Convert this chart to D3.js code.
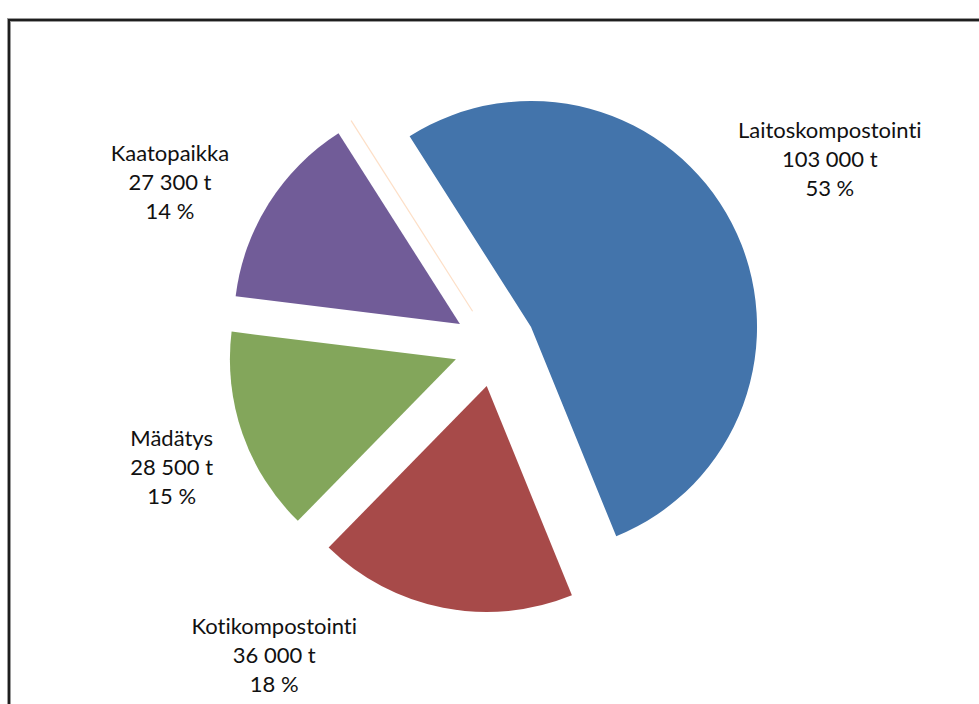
<!DOCTYPE html>
<html>
<head>
<meta charset="utf-8">
<script src="https://cdn.jsdelivr.net/npm/d3@7"></script>
<style>
  html, body { margin: 0; padding: 0; background: #fff; }
  svg { display: block; }
  text { font-variant-ligatures: none; font-feature-settings: "liga" 0, "clig" 0; }
</style>
</head>
<body>
<svg id="chart" width="979" height="704"></svg>
<script>
// ---- data ----
const categories = ["Laitoskompostointi", "Kotikompostointi", "Mädätys", "Kaatopaikka", ""];
const tonnes = [103000, 36000, 28500, 27300, 0];
const colors = ["#4374AB", "#A74A49", "#83A65B", "#715C98", "#F79646"];

// ---- layout ----
const W = 979, H = 704;
const cx = 494.6, cy = 345.8;
const R = 226;
const explode = 41;
const startDeg = -32.5;
const labelRadius = 339;
const labelNudge = [[34, -31], [-155, -23], [-3, 10], [-38, 18], [0, 0]];
const lineH = 29;

const svg = d3.select("#chart");

// frame
svg.append("rect")
  .attr("x", 9).attr("y", 20)
  .attr("width", W + 20).attr("height", H + 20)
  .attr("fill", "#fff")
  .attr("stroke", "#9a9a9a").attr("stroke-width", 4);
svg.append("rect")
  .attr("x", 9).attr("y", 20)
  .attr("width", W + 20).attr("height", H + 20)
  .attr("fill", "none")
  .attr("stroke", "#1e1e1e").attr("stroke-width", 2);

const total = d3.sum(tonnes);
const data = categories.map((c, i) => ({ name: c, value: tonnes[i], color: colors[i], i }));

const start = startDeg * Math.PI / 180;
const pie = d3.pie().value(d => d.value).sort(null)
  .startAngle(start).endAngle(start + 2 * Math.PI);
const arcs = pie(data);
const arc = d3.arc().innerRadius(0).outerRadius(R);

const g = svg.append("g").attr("transform", `translate(${cx},${cy})`);

g.selectAll("path.slice")
  .data(arcs)
  .join("path")
  .attr("class", "slice")
  .attr("transform", d => {
    const a = (d.startAngle + d.endAngle) / 2;
    return `translate(${Math.sin(a) * explode},${-Math.cos(a) * explode})`;
  })
  .attr("d", arc)
  .attr("fill", d => d.value > 0 ? d.data.color : "none")
  .attr("stroke", d => d.value > 0 ? "none" : d.data.color)
  .attr("stroke-opacity", d => d.value > 0 ? 0 : 0.3)
  .attr("stroke-width", 1.2);

// labels
const fmt = d3.formatLocale({ decimal: ",", thousands: " ", grouping: [3], currency: ["", ""] }).format(",d");

const lab = g.selectAll("g.lab")
  .data(arcs.filter(d => d.value > 0))
  .join("g")
  .attr("class", "lab")
  .attr("transform", d => {
    const a = (d.startAngle + d.endAngle) / 2;
    const n = labelNudge[d.data.i];
    return `translate(${Math.sin(a) * labelRadius + n[0]},${-Math.cos(a) * labelRadius + n[1]})`;
  });

lab.each(function(d) {
  const lines = [d.data.name, fmt(d.value) + " t", Math.round(d.value / total * 100) + " %"];
  d3.select(this).selectAll("text")
    .data(lines)
    .join("text")
    .attr("x", 0)
    .attr("y", (t, k) => (k - 1) * lineH)
    .attr("dy", "0.35em")
    .attr("text-anchor", "middle")
    .attr("font-family", "Lato, 'Open Sans', sans-serif")
    .attr("font-size", 22)
    .attr("fill", "#111")
    .text(t => t);
});
</script>
</body>
</html>
